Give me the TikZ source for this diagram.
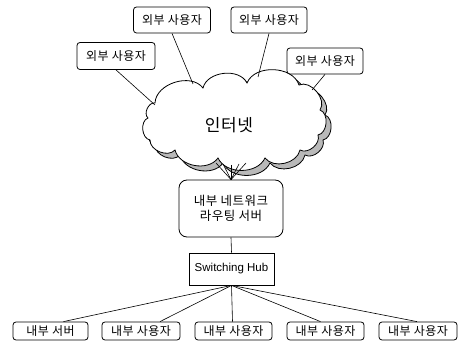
\documentclass[tikz,border=0pt]{standalone}
\usepackage{fontspec}
\newfontfamily\kr[LetterSpace=4]{Noto Sans CJK KR}
\newfontfamily\lib{Liberation Sans}
\begin{document}
\begin{tikzpicture}[x=1pt,y=-1pt,
  box/.style={draw, rounded corners=3pt, line width=0.8pt, inner sep=0pt, fill=white,
    font=\kr\fontsize{12}{14}\selectfont, align=center},
  ln/.style={line width=0.6pt},
  cloudline/.style={line width=0.8pt}]
\useasboundingbox (0,0) rectangle (458,347);

% cloud shadow
\begin{scope}[shift={(5,5)}]
\fill[gray!55, draw=black, cloudline]
  (155,103) to[bend left=70] (203,88) to[bend left=70] (247,83) to[bend left=70] (299,85)
  to[bend left=75] (320,110) to[bend left=75] (318,135) to[bend left=70] (300,150)
  to[bend left=65] (265,158) to[bend left=65] (218,158) to[bend left=65] (175,150)
  to[bend left=70] (150,140) to[bend left=75] (148,118) to[bend left=75] cycle;
\end{scope}
% cloud
\fill[white, draw=black, cloudline]
  (155,103) to[bend left=70] (203,88) to[bend left=70] (247,83) to[bend left=70] (299,85)
  to[bend left=75] (320,110) to[bend left=75] (318,135) to[bend left=70] (300,150)
  to[bend left=65] (265,158) to[bend left=65] (218,158) to[bend left=65] (175,150)
  to[bend left=70] (150,140) to[bend left=75] (148,118) to[bend left=75] cycle;
\node[font=\kr\fontsize{17}{19}\selectfont] (net) at (229,125) {인터넷};

\coordinate (ca) at (155,105);
\coordinate (cb) at (193,84);
\coordinate (cc) at (258,77);
\coordinate (cd) at (312,90);
\coordinate (f1) at (216,163);
\coordinate (f2) at (223,164);
\coordinate (f3) at (231,165);
\coordinate (f4) at (239,164);
\coordinate (f5) at (246,163);

% top boxes
\node[box, minimum width=78pt, minimum height=27pt] (ua) at (116,56) {외부 사용자};
\node[box, minimum width=77pt, minimum height=26pt] (ub) at (172,20) {외부 사용자};
\node[box, minimum width=76pt, minimum height=26pt] (uc) at (269,20) {외부 사용자};
\node[box, minimum width=76pt, minimum height=26pt] (ud) at (325,61) {외부 사용자};

\draw[ln] (ua.south) -- (ca);
\draw[ln] (ub.south) -- (cb);
\draw[ln] (uc.south) -- (cc);
\draw[ln] (ud.south) -- (cd);

% router
\node[box, rounded corners=8pt, minimum width=104pt, minimum height=57pt,
  font=\kr\fontsize{12.5}{15}\selectfont] (rt) at (231,208.5) {내부 네트워크\\라우팅 서버};
\foreach \f in {f1,f2,f3,f4,f5} \draw[ln] (\f) -- (rt.north);

% hub
\node[draw, line width=0.8pt, minimum width=85pt, minimum height=32pt, inner sep=0pt,
  font=\lib\fontsize{11.5}{13}\selectfont] (hub) at (231.5,269) {Switching Hub};
\draw[ln] (rt.south) -- (hub.north);

% bottom boxes
\node[box, minimum width=75pt, minimum height=18pt] (b1) at (50.5,331) {내부 서버};
\node[box, minimum width=78pt, minimum height=18pt] (b2) at (141,331) {내부 사용자};
\node[box, minimum width=77pt, minimum height=18pt] (b3) at (233.5,331) {내부 사용자};
\node[box, minimum width=77pt, minimum height=18pt] (b4) at (325.5,331) {내부 사용자};
\node[box, minimum width=78pt, minimum height=18pt] (b5) at (418,331) {내부 사용자};

\draw[ln] (hub.south) -- ([xshift=13pt]b1.north);
\draw[ln] (hub.south) -- ([xshift=19pt]b2.north);
\draw[ln] (hub.south) -- ([xshift=-1pt]b3.north);
\draw[ln] (hub.south) -- ([xshift=-5pt]b4.north);
\draw[ln] (hub.south) -- ([xshift=-1pt]b5.north);
\end{tikzpicture}
\end{document}
